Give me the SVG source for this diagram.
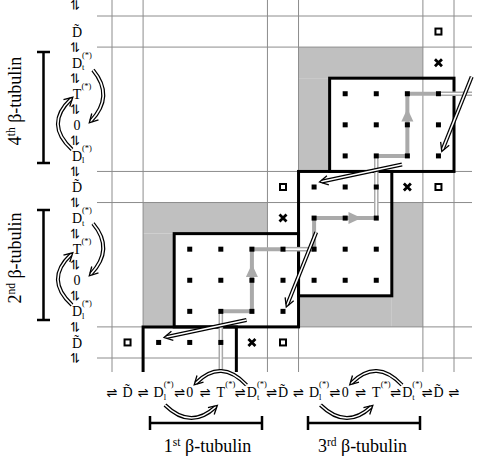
<svg xmlns="http://www.w3.org/2000/svg" width="485" height="464" viewBox="0 0 485 464">
<defs>
<style>
.grid{stroke:#8c8c8c;stroke-width:1;fill:none}
.shade{fill:#c0c0c0}
.box{fill:none;stroke:#000;stroke-width:3}
.dot{fill:#000}
.sq{fill:#fff;stroke:#000;stroke-width:2}
.x{stroke:#000;stroke-width:2.8;fill:none}
.gp{fill:none;stroke:#aaa;stroke-width:4;stroke-linejoin:miter}
.gdo{fill:none;stroke:#aaa;stroke-width:4.6}
.gdi{fill:none;stroke:#fff;stroke-width:1.6}
.bdo{fill:none;stroke:#000;stroke-width:4}
.bdi{fill:none;stroke:#fff;stroke-width:1.6}
.hd{fill:none;stroke:none}
.ga{fill:#aaa}
.lb{font-family:"Liberation Serif","Times New Roman",serif;font-size:14px;fill:#000}
.sm{font-family:"Liberation Serif","Times New Roman",serif;font-size:8.5px;fill:#000}
.eq{font-family:"DejaVu Sans",sans-serif;font-size:13px;fill:#000}
.tt{font-family:"Liberation Serif","Times New Roman",serif;font-size:18px;fill:#000}
.br{stroke:#000;stroke-width:2.5;fill:none}
</style>
<rect id="d" x="-2.5" y="-2.5" width="5" height="5" class="dot"/>
<rect id="q" x="-3" y="-3" width="6" height="6" class="sq"/>
<path id="k" d="M-3.5,-3.5 L3.5,3.5 M-3.5,3.5 L3.5,-3.5" class="x"/>
<marker id="ah" markerUnits="userSpaceOnUse" markerWidth="16" markerHeight="16" viewBox="-8 -8 16 16" refX="0" refY="0" orient="auto">
<path d="M-6,-4.6 L2.5,0 L-6,4.6" fill="none" stroke="#000" stroke-width="1.3"/>
</marker>
</defs>

<g id="shading">
<rect class="shade" x="298.54" y="47.09" width="124.36" height="31.09"/>
<rect class="shade" x="298.54" y="78.18" width="31.09" height="93.27"/>
<rect class="shade" x="391.81" y="202.54" width="31.09" height="124.36"/>
<rect class="shade" x="298.54" y="295.81" width="93.27" height="31.09"/>
<rect class="shade" x="143.09" y="202.54" width="124.36" height="31.09"/>
<rect class="shade" x="143.09" y="233.63" width="31.09" height="93.27"/>
</g>

<g id="grid">
<path class="grid" d="M112,0V372 M143.09,0V372 M267.45,0V372 M298.54,0V372 M422.9,0V372 M454,0V372"/>
<path class="grid" d="M97,16H472 M97,47.09H472 M97,171.45H472 M97,202.54H472 M97,326.9H472 M97,358H472"/>
</g>

<g id="box-A"><path class="box" d="M143.09,372V326.9H236.36V372"/></g>
<g id="box-B"><rect class="box" x="174.18" y="233.63" width="124.36" height="93.27"/></g>
<g id="box-C"><rect class="box" x="298.54" y="171.45" width="93.27" height="124.36"/></g>
<g id="box-D"><rect class="box" x="329.63" y="78.18" width="124.37" height="93.27"/></g>

<g id="connectors">
<path class="gp" d="M220.82,311.36H251.91V249.18H283"/>
<path class="gdo" d="M220.82,313V372"/><path class="gdi" d="M220.82,313V372"/>
<path class="gdo" d="M283,249.18H314.09"/><path class="gdi" d="M283,249.18H314.09"/>
<path class="gp" d="M314.09,251V218.09H376.27"/>
<path class="gdo" d="M376.27,216V155.91"/><path class="gdi" d="M376.27,216V155.91"/>
<path class="gp" d="M376.27,155.91H407.36V93.73H438.45"/>
<path class="gdo" d="M438.45,93.73H472"/><path class="gdi" d="M438.45,93.73H472"/>
<polygon class="ga" points="251.91,264 245.91,277 257.91,277"/>
<polygon class="ga" points="407.36,108.5 401.36,121.5 413.36,121.5"/>
<polygon class="ga" points="361.5,218.09 348.5,212.09 348.5,224.09"/>

<path class="bdo" d="M316.2,232.2L287.2,304.7"/><path class="bdi" d="M316.2,232.2L287.2,304.7"/><path class="hd" d="M316.2,232.2L287.2,304.7" marker-end="url(#ah)"/>
<path class="bdo" d="M471.7,76.7L442.7,149.2"/><path class="bdi" d="M471.7,76.7L442.7,149.2"/><path class="hd" d="M471.7,76.7L442.7,149.2" marker-end="url(#ah)"/>
<path class="bdo" d="M246.5,320L166.5,337"/><path class="bdi" d="M246.5,320L166.5,337"/><path class="hd" d="M246.5,320L166.5,337" marker-end="url(#ah)"/>
<path class="bdo" d="M402,164.5L322,181.5"/><path class="bdi" d="M402,164.5L322,181.5"/><path class="hd" d="M402,164.5L322,181.5" marker-end="url(#ah)"/>

<path class="bdo" d="M246.5,385Q221,358 196,383"/><path class="bdi" d="M246.5,385Q221,358 196,383"/><path class="hd" d="M246.5,385Q221,358 196,383" marker-end="url(#ah)"/>
<path class="bdo" d="M165,405Q190.5,430 215.5,407"/><path class="bdi" d="M165,405Q190.5,430 215.5,407"/><path class="hd" d="M165,405Q190.5,430 215.5,407" marker-end="url(#ah)"/>
<path class="bdo" d="M402,385Q376.5,358 351.5,383"/><path class="bdi" d="M402,385Q376.5,358 351.5,383"/><path class="hd" d="M402,385Q376.5,358 351.5,383" marker-end="url(#ah)"/>
<path class="bdo" d="M320.5,405Q346,430 371,407"/><path class="bdi" d="M320.5,405Q346,430 371,407"/><path class="hd" d="M320.5,405Q346,430 371,407" marker-end="url(#ah)"/>

<path class="bdo" d="M93,223.5Q114.5,249 91,274"/><path class="bdi" d="M93,223.5Q114.5,249 91,274"/><path class="hd" d="M93,223.5Q114.5,249 91,274" marker-end="url(#ah)"/>
<path class="bdo" d="M72,305Q44.3,279.5 71,254.5"/><path class="bdi" d="M72,305Q44.3,279.5 71,254.5"/><path class="hd" d="M72,305Q44.3,279.5 71,254.5" marker-end="url(#ah)"/>
<path class="bdo" d="M93,70Q114.5,96 91,121"/><path class="bdi" d="M93,70Q114.5,96 91,121"/><path class="hd" d="M93,70Q114.5,96 91,121" marker-end="url(#ah)"/>
<path class="bdo" d="M72,149.5Q44.3,124 71,99"/><path class="bdi" d="M72,149.5Q44.3,124 71,99"/><path class="hd" d="M72,149.5Q44.3,124 71,99" marker-end="url(#ah)"/>
</g>

<g id="dots-A">
<use href="#d" x="158.64" y="342.45"/><use href="#d" x="189.73" y="342.45"/><use href="#d" x="220.82" y="342.45"/>
</g>
<g id="dots-B">
<use href="#d" x="189.73" y="249.18"/><use href="#d" x="220.82" y="249.18"/><use href="#d" x="251.91" y="249.18"/><use href="#d" x="283" y="249.18"/>
<use href="#d" x="189.73" y="280.27"/><use href="#d" x="220.82" y="280.27"/><use href="#d" x="251.91" y="280.27"/><use href="#d" x="283" y="280.27"/>
<use href="#d" x="189.73" y="311.36"/><use href="#d" x="220.82" y="311.36"/><use href="#d" x="251.91" y="311.36"/><use href="#d" x="283" y="311.36"/>
</g>
<g id="dots-C">
<use href="#d" x="314.09" y="187"/><use href="#d" x="345.18" y="187"/><use href="#d" x="376.27" y="187"/>
<use href="#d" x="314.09" y="218.09"/><use href="#d" x="345.18" y="218.09"/><use href="#d" x="376.27" y="218.09"/>
<use href="#d" x="314.09" y="249.18"/><use href="#d" x="345.18" y="249.18"/><use href="#d" x="376.27" y="249.18"/>
<use href="#d" x="314.09" y="280.27"/><use href="#d" x="345.18" y="280.27"/><use href="#d" x="376.27" y="280.27"/>
</g>
<g id="dots-D">
<use href="#d" x="345.18" y="93.73"/><use href="#d" x="376.27" y="93.73"/><use href="#d" x="407.36" y="93.73"/><use href="#d" x="438.45" y="93.73"/>
<use href="#d" x="345.18" y="124.82"/><use href="#d" x="376.27" y="124.82"/><use href="#d" x="407.36" y="124.82"/><use href="#d" x="438.45" y="124.82"/>
<use href="#d" x="345.18" y="155.91"/><use href="#d" x="376.27" y="155.91"/><use href="#d" x="407.36" y="155.91"/><use href="#d" x="438.45" y="155.91"/>
</g>
<g id="squares">
<use href="#q" x="438.45" y="31.55"/><use href="#q" x="283" y="187"/><use href="#q" x="438.45" y="187"/><use href="#q" x="127.55" y="342.45"/><use href="#q" x="283" y="342.45"/>
</g>
<g id="crosses">
<use href="#k" x="438.45" y="62.64"/><use href="#k" x="283" y="218.09"/><use href="#k" x="407.36" y="187"/><use href="#k" x="251.91" y="342.45"/>
</g>

<g id="x-axis">
<g class="eq" text-anchor="middle">
<text x="112" y="396.5">⇌</text><text x="143.09" y="396.5">⇌</text><text x="179.6" y="396.5">⇌</text><text x="205.27" y="396.5">⇌</text><text x="240.3" y="396.5">⇌</text><text x="271.8" y="396.5">⇌</text>
<text x="298.54" y="396.5">⇌</text><text x="335" y="396.5">⇌</text><text x="360.72" y="396.5">⇌</text><text x="395.7" y="396.5">⇌</text><text x="427.2" y="396.5">⇌</text><text x="454" y="396.5">⇌</text>
</g>
<g transform="translate(127.55,397)"><text class="lb" text-anchor="middle">D&#x303;</text></g>
<g transform="translate(158.64,397)"><text class="lb" text-anchor="middle">D</text><text class="sm" x="5" y="-10">(*)</text><text class="sm" x="5" y="2.5">l</text></g>
<g transform="translate(189.73,397)"><text class="lb" text-anchor="middle">0</text></g>
<g transform="translate(220.82,397)"><text class="lb" text-anchor="middle">T</text><text class="sm" x="4.5" y="-10">(*)</text></g>
<g transform="translate(251.91,397)"><text class="lb" text-anchor="middle">D</text><text class="sm" x="5" y="-10">(*)</text><text class="sm" x="5" y="2.5">t</text></g>
<g transform="translate(283,397)"><text class="lb" text-anchor="middle">D&#x303;</text></g>
<g transform="translate(314.09,397)"><text class="lb" text-anchor="middle">D</text><text class="sm" x="5" y="-10">(*)</text><text class="sm" x="5" y="2.5">l</text></g>
<g transform="translate(345.18,397)"><text class="lb" text-anchor="middle">0</text></g>
<g transform="translate(376.27,397)"><text class="lb" text-anchor="middle">T</text><text class="sm" x="4.5" y="-10">(*)</text></g>
<g transform="translate(407.36,397)"><text class="lb" text-anchor="middle">D</text><text class="sm" x="5" y="-10">(*)</text><text class="sm" x="5" y="2.5">t</text></g>
<g transform="translate(438.45,397)"><text class="lb" text-anchor="middle">D&#x303;</text></g>
</g>

<g id="y-axis">
<g class="eq" text-anchor="middle">
<text transform="translate(76,5) rotate(90)" y="4.6">⇌</text>
<text transform="translate(76,47.09) rotate(90)" y="4.6">⇌</text>
<text transform="translate(76,78.18) rotate(90)" y="4.6">⇌</text>
<text transform="translate(76,109.27) rotate(90)" y="4.6">⇌</text>
<text transform="translate(76,140.36) rotate(90)" y="4.6">⇌</text>
<text transform="translate(76,171.45) rotate(90)" y="4.6">⇌</text>
<text transform="translate(76,202.54) rotate(90)" y="4.6">⇌</text>
<text transform="translate(76,233.63) rotate(90)" y="4.6">⇌</text>
<text transform="translate(76,264.72) rotate(90)" y="4.6">⇌</text>
<text transform="translate(76,295.81) rotate(90)" y="4.6">⇌</text>
<text transform="translate(76,326.9) rotate(90)" y="4.6">⇌</text>
<text transform="translate(76,358) rotate(90)" y="4.6">⇌</text>
</g>
<g transform="translate(77,36.5)"><text class="lb" text-anchor="middle">D&#x303;</text></g>
<g transform="translate(77,67.6)"><text class="lb" text-anchor="middle">D</text><text class="sm" x="5" y="-10">(*)</text><text class="sm" x="5" y="2.5">t</text></g>
<g transform="translate(77,98.7)"><text class="lb" text-anchor="middle">T</text><text class="sm" x="4.5" y="-10">(*)</text></g>
<g transform="translate(77,129.8)"><text class="lb" text-anchor="middle">0</text></g>
<g transform="translate(77,160.9)"><text class="lb" text-anchor="middle">D</text><text class="sm" x="5" y="-10">(*)</text><text class="sm" x="5" y="2.5">l</text></g>
<g transform="translate(77,192)"><text class="lb" text-anchor="middle">D&#x303;</text></g>
<g transform="translate(77,223.1)"><text class="lb" text-anchor="middle">D</text><text class="sm" x="5" y="-10">(*)</text><text class="sm" x="5" y="2.5">t</text></g>
<g transform="translate(77,254.2)"><text class="lb" text-anchor="middle">T</text><text class="sm" x="4.5" y="-10">(*)</text></g>
<g transform="translate(77,285.3)"><text class="lb" text-anchor="middle">0</text></g>
<g transform="translate(77,316.4)"><text class="lb" text-anchor="middle">D</text><text class="sm" x="5" y="-10">(*)</text><text class="sm" x="5" y="2.5">l</text></g>
<g transform="translate(77,347.5)"><text class="lb" text-anchor="middle">D&#x303;</text></g>
</g>

<g id="brackets">
<path class="br" d="M43.5,52V163 M37,52H50 M37,163H50"/>
<path class="br" d="M43.5,210V320 M37,210H50 M37,320H50"/>
<path class="br" d="M150,423H262 M150,416V430 M262,416V430"/>
<path class="br" d="M308,423H420 M308,416V430 M420,416V430"/>
</g>

<g id="titles">
<text class="tt" text-anchor="middle" transform="translate(21,101) rotate(-90)">4<tspan font-size="11.5" dy="-6.5">th</tspan><tspan dy="6.5"> β-tubulin</tspan></text>
<text class="tt" text-anchor="middle" transform="translate(21,258) rotate(-90)">2<tspan font-size="11.5" dy="-6.5">nd</tspan><tspan dy="6.5"> β-tubulin</tspan></text>
<text class="tt" text-anchor="middle" x="207.5" y="452">1<tspan font-size="11.5" dy="-6.5">st</tspan><tspan dy="6.5"> β-tubulin</tspan></text>
<text class="tt" text-anchor="middle" x="362.5" y="452">3<tspan font-size="11.5" dy="-6.5">rd</tspan><tspan dy="6.5"> β-tubulin</tspan></text>
</g>
</svg>
